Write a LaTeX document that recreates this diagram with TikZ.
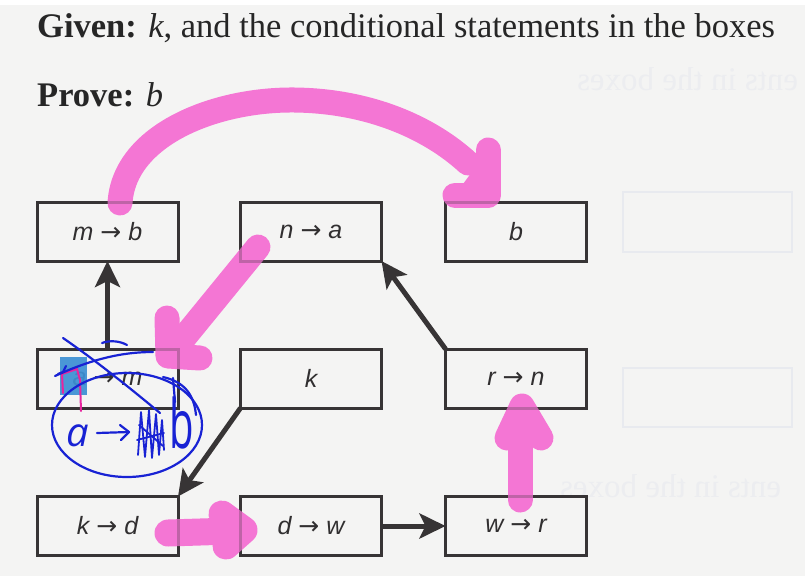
\documentclass[tikz,border=0pt]{standalone}
\usepackage{fontspec}
\setmainfont{Liberation Serif}
\newfontfamily\boxfont{Liberation Sans}
\newfontfamily\arrowfont{DejaVu Sans}
\newfontfamily\handfont{Open Sans}
\usetikzlibrary{arrows.meta}
\definecolor{paper}{HTML}{F4F4F3}
\definecolor{ink}{HTML}{373435}
\definecolor{hlpink}{HTML}{F476D4}
\definecolor{penblue}{HTML}{1822D4}
\definecolor{ghost}{HTML}{ECEDF0}
\definecolor{ghostline}{HTML}{E8EAEF}
\definecolor{hlblue}{HTML}{3C90D4}
\definecolor{penpink}{HTML}{E8259E}
\newcommand{\imp}{\hspace{7pt}{\arrowfont\upshape\fontsize{25}{25}\selectfont →}\hspace{7pt}}
\tikzset{
  stmt/.style={draw=ink, line width=3pt, minimum width=141pt, minimum height=59pt, inner sep=0pt, outer sep=0pt,
    font=\boxfont\fontsize{25}{25}\selectfont\itshape, text=ink!90!black},
  link/.style={draw=ink, line width=5pt, -{Stealth[length=26pt,width=25pt,inset=6pt]}},
  marker/.style={draw=hlpink, line width=25pt, line cap=round, line join=round},
  markerfill/.style={fill=hlpink},
  inkpen/.style={draw=penblue, line width=2.2pt, line cap=round, line join=round},
  ghostbox/.style={draw=ghostline, line width=2pt},
  title/.style={anchor=base west, inner sep=0pt, font=\fontsize{34.5}{34.5}\selectfont, text=black!85}
}
\begin{document}
\begin{tikzpicture}[x=1pt,y=-1pt]
\useasboundingbox (0,0) rectangle (805,576);
\fill[paper] (0,0) rectangle (805,576);
\fill[white] (0,0) rectangle (805,5);

% ghost show-through from the other side of the page
\node[anchor=base west, inner sep=0pt, text=ghost, font=\fontsize{33}{33}\selectfont] (ghosttop) at (577,90) {\scalebox{-1}[1]{ents in the boxes}};
\node[anchor=base west, inner sep=0pt, text=ghost, font=\fontsize{33}{33}\selectfont] (ghostbot) at (560,497) {\scalebox{-1}[1]{ents in the boxes}};
\draw[ghostbox] (623,192) rectangle (792,252);
\draw[ghostbox] (623,368) rectangle (792,427);

% header
\node[title] (given) at (37,37) {\textbf{Given:} \textit{k}, and the conditional statements in the boxes};
\node[title] (prove) at (37,106) {\textbf{Prove:} \textit{b}};

% boxes
\node[stmt] (mb) at (107.5,231.5) {m\imp b};
\node[stmt] (na) at (311,231.5) {n\imp a};
\node[stmt] (b)  at (516,232) {b};
\node[stmt] (am) at (107.5,378.5) {a\imp m};
\node[stmt] (k)  at (311,378.5) {k};
\node[stmt] (rn) at (516,378.5) {r\imp n};
\node[stmt] (kd) at (107.5,526) {k\imp d};
\node[stmt] (dw) at (311,526) {d\imp w};
\node[stmt] (wr) at (516,526) {w\imp r};

% printed arrows
\draw[link] (am.north) -- (mb.south);
\draw[link] (rn.north west) -- (na.south east);
\draw[link] (k.south west) -- (kd.north east);
\draw[link] (dw.east) -- (wr.west);

% pink highlighter strokes
\draw[marker] (120,203) .. controls (124,135) and (215,99) .. (295,100)
                        .. controls (370,101) and (430,128) .. (468,163);
\fill[markerfill] (488,150) -- (488,195) -- (455,195) -- cycle;
\draw[marker] (488,150) -- (488,195) -- (455,195);

\draw[marker] (258,247) -- (178,345);
\fill[markerfill] (167,318) -- (168,356) -- (200,358) -- cycle;
\draw[marker] (167,318) -- (168,356) -- (200,358);

\draw[marker, line width=27pt] (168,533) -- (232,531);
\fill[markerfill] (222,514) -- (244,530) -- (226,546) -- cycle;
\draw[marker, line width=27pt] (222,514) -- (244,530) -- (226,546);

\draw[marker] (520,500) -- (520,425);
\fill[markerfill] (507,438) -- (522,406) -- (541,438) -- cycle;
\draw[marker] (507,438) -- (522,406) -- (541,438);

% box borders faintly visible through the highlighter
\foreach \n in {mb,na,b,am,k,rn,kd,dw,wr}
  \draw[ink, line width=3pt, opacity=.28] (\n.north west) rectangle (\n.south east);

% blue pen annotations
\fill[hlblue, opacity=.92] (60,357) rectangle (87,395);
\draw[penpink, line width=2pt, line cap=round, line join=round] (63,393) -- (62,374) -- (77,369) -- (80,380) -- (81,411);
\draw[inkpen] (58,374) -- (63,372) -- (66,366);
\draw[inkpen] (63,338) .. controls (95,360) and (130,388) .. (160,413);
\draw[inkpen] (55,376) .. controls (90,360) and (120,352) .. (153,352);
\draw[inkpen] (102,343) .. controls (110,340) and (120,341) .. (127,345);
\draw[inkpen] (127,425) ellipse [x radius=75pt, y radius=52pt];
\draw[inkpen] (163,377) .. controls (185,382) and (194,395) .. (196,415);
\draw[inkpen] (173,378) -- (175,402);

\node[anchor=base, inner sep=0pt, text=penblue, font=\handfont\itshape\fontsize{40}{40}\selectfont] (handa) at (78,446) {a};
\draw[inkpen] (97,433) -- (129,432);
\draw[inkpen] (120,425) -- (129,432) -- (121,440);
\draw[inkpen, line width=1.8pt] (138,455) -- (141,412) -- (145,457) -- (149,410) -- (152,458) -- (156,414) -- (159,455) -- (162,420) -- (164,450);
\draw[inkpen, line width=1.8pt] (137,440) -- (164,433) (139,425) -- (163,446);
\node[anchor=base, inner sep=0pt, text=penblue, font=\handfont\fontsize{40}{40}\selectfont] (handb) at (182,448) {\scalebox{1}[1.7]{b}};
\end{tikzpicture}
\end{document}
